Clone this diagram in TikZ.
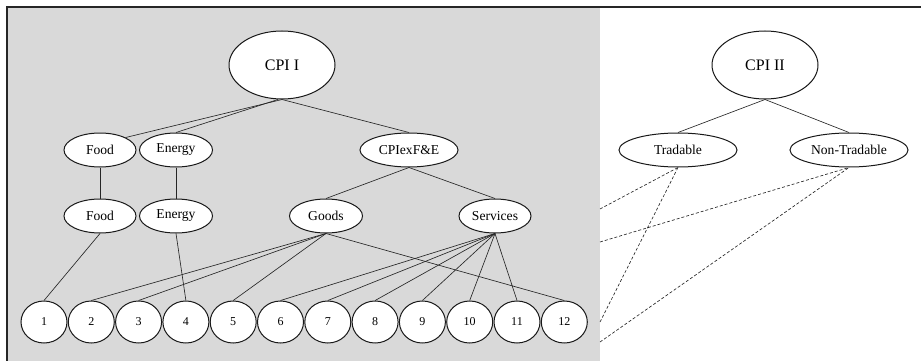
\documentclass[tikz,border=0pt]{standalone}
\usepackage{fontspec}
\setmainfont{Liberation Serif}
\usetikzlibrary{shapes.geometric}
\begin{document}
\begin{tikzpicture}[x=1pt,y=-1pt,
  ell/.style={ellipse, draw=black!90, fill=white, line width=1pt, inner sep=0pt,
    font=\fontsize{13.6}{15}\selectfont, minimum height=34pt},
  bigell/.style={ell, minimum width=106pt, minimum height=68pt, font=\fontsize{16}{18}\selectfont},
  leaf/.style={ell, minimum width=46pt, minimum height=42pt, font=\fontsize{12}{14}\selectfont},
  link/.style={draw=black!85, line width=0.65pt},
  dlink/.style={draw=black!85, line width=0.65pt, dash pattern=on 3pt off 2pt},
  frame/.style={draw=black!85, line width=1.6pt}]
\useasboundingbox (0,0) rectangle (921,361);
\fill[black!15] (7,7) rectangle (600,361);
\draw[frame] (7,361) -- (7,7) -- (921,7);

\node[bigell] (cpiI) at (282,65) {CPI I};
\node[ell, minimum width=72pt] (food1) at (100,150) {Food};
\node[ell, minimum width=73pt] (energy1) at (176,150) {Energy};
\node[ell, minimum width=98pt] (cpix) at (409,150) {CPIexF\&E};
\node[ell, minimum width=72pt] (food2) at (100,216) {Food};
\node[ell, minimum width=73pt] (energy2) at (176,216) {Energy};
\node[ell, minimum width=73pt] (goods) at (326,216) {Goods};
\node[ell, minimum width=72pt] (services) at (495,216) {Services};
\foreach \i in {1,...,12}{
  \node[leaf] (c\i) at ({44+47.3*(\i-1)},322) {\i};
}
\node[bigell] (cpiII) at (765,65) {CPI II};
\node[ell, minimum width=118pt] (trad) at (678,150) {Tradable};
\node[ell, minimum width=118pt] (nontrad) at (849,150) {Non-Tradable};

\coordinate (d1) at (600,209);
\coordinate (d2) at (600,242);
\coordinate (d3) at (600,322);
\coordinate (d4) at (600,342);

% solid connectors
\draw[link] (cpiI.south) -- (food1.26);
\draw[link] ([xshift=-4pt]cpiI.south) -- (energy1.north);
\draw[link] (cpiI.south) -- (cpix.north);
\draw[link] (food1.south) -- (food2.north);
\draw[link] (energy1.south) -- (energy2.north);
\draw[link] (cpix.south) -- (goods.north);
\draw[link] (cpix.south) -- (services.north);
\draw[link] (food2.south) -- (c1.north);
\draw[link] (energy2.south) -- (c4.north);
\foreach \j in {2,3,5,12}{ \draw[link] (goods.south) -- (c\j.north); }
\foreach \j in {6,...,11}{ \draw[link] (services.south) -- (c\j.north); }
\draw[link] (cpiII.south) -- (trad.north);
\draw[link] (cpiII.south) -- (nontrad.north);

% dashed connectors
\draw[dlink] (d1) -- (trad.south);
\draw[dlink] (d3) -- (trad.south);
\draw[dlink] (d2) -- (nontrad.south);
\draw[dlink] (d4) -- (nontrad.south);
\end{tikzpicture}
\end{document}
